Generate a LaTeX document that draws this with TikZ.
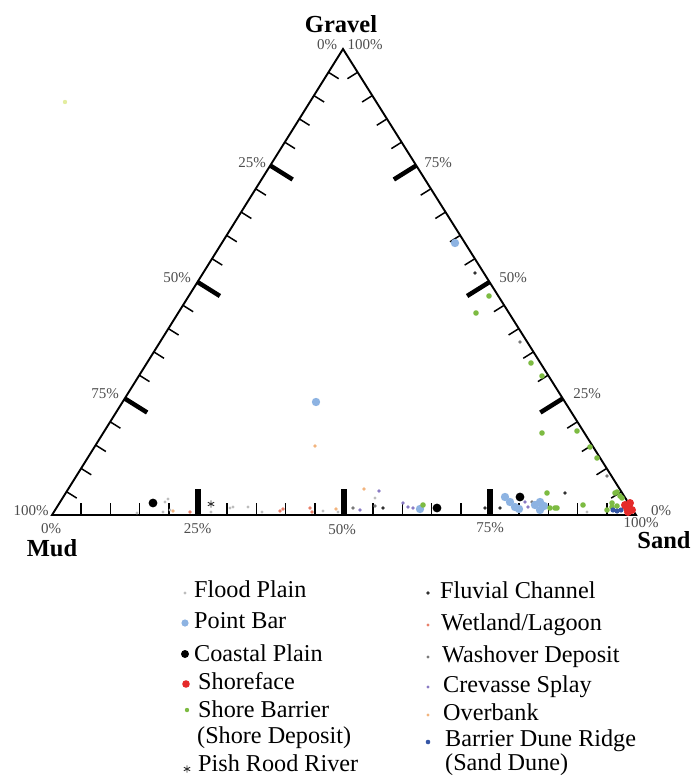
\documentclass[tikz,border=0pt]{standalone}
\usepackage{fontspec}
\setmainfont{Liberation Serif}
\usetikzlibrary{calc}
\definecolor{pbcol}{HTML}{8DB3E2}
\definecolor{sfcol}{HTML}{E52A2A}
\definecolor{sbcol}{HTML}{7DBB42}
\definecolor{fpcol}{HTML}{BDBDBD}
\definecolor{fccol}{HTML}{303030}
\definecolor{wlcol}{HTML}{E8806A}
\definecolor{wdcol}{HTML}{7A7A7A}
\definecolor{cscol}{HTML}{8A7BC4}
\definecolor{obcol}{HTML}{F2B47E}
\definecolor{bdcol}{HTML}{3556A6}
\definecolor{pctcol}{HTML}{4D4D4D}
\definecolor{olcol}{HTML}{E3EDA0}
\tikzset{
  axisline/.style={line width=1.9pt, line join=miter},
  minortick/.style={line width=1.5pt},
  majortick/.style={line width=4.5pt},
  bmajortick/.style={line width=5.5pt},
  pct/.style={font=\fontsize{15}{15}\selectfont, text=pctcol, inner sep=0pt, anchor=base},
  corner/.style={font=\bfseries\fontsize{24.5}{24.5}\selectfont, inner sep=0pt, anchor=base},
  legtext/.style={font=\fontsize{24.2}{24.2}\selectfont, inner sep=0pt, anchor=base west},
  pbar/.style={fill=pbcol},
  cplain/.style={fill=black},
  sface/.style={fill=sfcol},
  sbar/.style={fill=sbcol},
  fplain/.style={fill=fpcol},
  fchan/.style={fill=fccol},
  wland/.style={fill=wlcol},
  wover/.style={fill=wdcol},
  csplay/.style={fill=cscol},
  obank/.style={fill=obcol},
  bdune/.style={fill=bdcol},
  astline/.style={line width=0.9pt, fccol}
}
\newcommand{\astmark}[1]{\draw[astline, shift={#1}] (0,-3.6) -- (0,3.6) (-3.1,-1.8) -- (3.1,1.8) (-3.1,1.8) -- (3.1,-1.8);}
\begin{document}
\begin{tikzpicture}[x=1pt,y=-1pt]
\useasboundingbox (0,0) rectangle (692,776);
% vertices
\coordinate (M) at (52,515);
\coordinate (S) at (636,515);
\coordinate (G) at (343,49);
\draw[axisline] (M) -- (G) -- (S) -- cycle;
% ticks
\foreach \i in {1,2,3,4,6,7,8,9,11,12,13,14,16,17,18,19}{
  \pgfmathsetmacro\t{\i/20}
  \draw[minortick] ({52+291*\t},{515-466*\t}) -- ++(10.2,6.4);
  \draw[minortick] ({343+293*\t},{49+466*\t}) -- ++(-10.2,6.4);
  \draw[minortick] ({52+584*\t},515) -- ++(0,-12);
}
\foreach \i in {5,10,15}{
  \pgfmathsetmacro\t{\i/20}
  \draw[majortick] ({52+291*\t},{515-466*\t}) -- ++(22.4,14);
  \draw[majortick] ({343+293*\t},{49+466*\t}) -- ++(-22.4,14);
  \draw[bmajortick] ({52+584*\t},515) -- ++(0,-26);
}
% corner labels
\node[corner] (tG) at (341,33) {Gravel};
\node[corner] (tM) at (52,556) {Mud};
\node[corner] (tS) at (664,548) {Sand};
% percent labels
\node[pct] (gl0) at (327,50) {0\%};
\node[pct] (gr100) at (365,49) {100\%};
\node[pct] (l25) at (252,167) {25\%};
\node[pct] (l50) at (177,282) {50\%};
\node[pct] (l75) at (105,398) {75\%};
\node[pct] (l100) at (31,515) {100\%};
\node[pct] (b0) at (51,533) {0\%};
\node[pct] (b25) at (197.5,533) {25\%};
\node[pct] (b50) at (342,534) {50\%};
\node[pct] (b75) at (490,532) {75\%};
\node[pct] (b100) at (641,527) {100\%};
\node[pct] (r0) at (661,515) {0\%};
\node[pct] (r25) at (587,398) {25\%};
\node[pct] (r50) at (513,282) {50\%};
\node[pct] (r75) at (438,167) {75\%};
% data points
\fill[fill=olcol] (65,102) circle (2.2pt);
\foreach \p in {(137,513),(165,502),(168,499),(163,512),(170,510),(211,512),(230,508),(233,507),(248,507),(262,512),(323,511),(338,512),(375,498),(587,512)}
  \fill[fplain] \p circle (1.7pt);
\foreach \p in {(190,512),(280,511),(283,509),(310,508),(312,512)}
  \fill[wland] \p circle (1.8pt);
\foreach \p in {(315,446),(364,489),(336,509),(173,511)}
  \fill[obank] \p circle (1.8pt);
\foreach \p in {(360,510),(379,491),(403,503),(408,507),(413,508),(525,502),(528,507)}
  \fill[csplay] \p circle (1.8pt);
\foreach \p in {(520,342),(607,476),(353,508),(532,502),(375,506)}
  \fill[wover] \p circle (1.8pt);
\foreach \p in {(475,273),(565,493),(383,508),(485,508),(500,508)}
  \fill[fchan] \p circle (1.8pt);
\foreach \p in {(455,243),(316,402),(420,509),(505,497),(510,502),(515,507),(519,509),(535,505),(540,502),(544,506),(540,510)}
  \fill[pbar] \p circle (4.2pt);
\foreach \p in {(489,296),(476,313),(531,363),(542,376),(542,433),(577,431),(590,447),(597,458),(617,492),(622,498),(547,493),(550,508),(557,508),(583,505),(607,510),(612,507),(615,493),(620,496),(423,505),(555,508),(612,503),(617,506)}
  \fill[sbar] \p circle (2.8pt);
\foreach \p in {(613,510),(617,511),(621,510)}
  \fill[bdune] \p circle (2.6pt);
\foreach \p in {(153,503),(437,508),(520,497)}
  \fill[cplain] \p circle (4.4pt);
\foreach \p in {(627,508),(630,503),(628,512),(632,510),(625,505)}
  \fill[sface] \p circle (4pt);
\astmark{(211,504)}
% legend, left column
\fill[fplain] (185,593) circle (1.6pt);
\node[legtext] (lfp) at (194,597) {Flood Plain};
\fill[pbar] (185,623) circle (3.6pt);
\node[legtext] (lpb) at (194,628) {Point Bar};
\fill[cplain] (185,654) circle (4pt);
\node[legtext] (lcp) at (194,661) {Coastal Plain};
\fill[sface] (186,684) circle (3.8pt);
\node[legtext] (lsf) at (198,689) {Shoreface};
\fill[sbar] (187,710) circle (2.2pt);
\node[legtext] (lsb) at (198,717) {Shore Barrier};
\node[legtext] (lsd) at (197,743) {(Shore Deposit)};
\astmark{(187,769)}
\node[legtext] (lpr) at (198,771) {Pish Rood River};
% legend, right column
\fill[fchan] (428,593) circle (1.9pt);
\node[legtext] (lfc) at (440,598) {Fluvial Channel};
\fill[wland] (428,625) circle (1.7pt);
\node[legtext] (lwl) at (441,630) {Wetland/Lagoon};
\fill[wover] (428,657) circle (1.7pt);
\node[legtext] (lwd) at (442,662) {Washover Deposit};
\fill[csplay] (428,687) circle (1.7pt);
\node[legtext] (lcs) at (443,692) {Crevasse Splay};
\fill[obank] (428,715) circle (1.7pt);
\node[legtext] (lob) at (443,720) {Overbank};
\fill[bdune] (428,742) circle (2.3pt);
\node[legtext] (lbd) at (445,746) {Barrier Dune Ridge};
\node[legtext] (lsdn) at (445,770) {(Sand Dune)};
\end{tikzpicture}
\end{document}
